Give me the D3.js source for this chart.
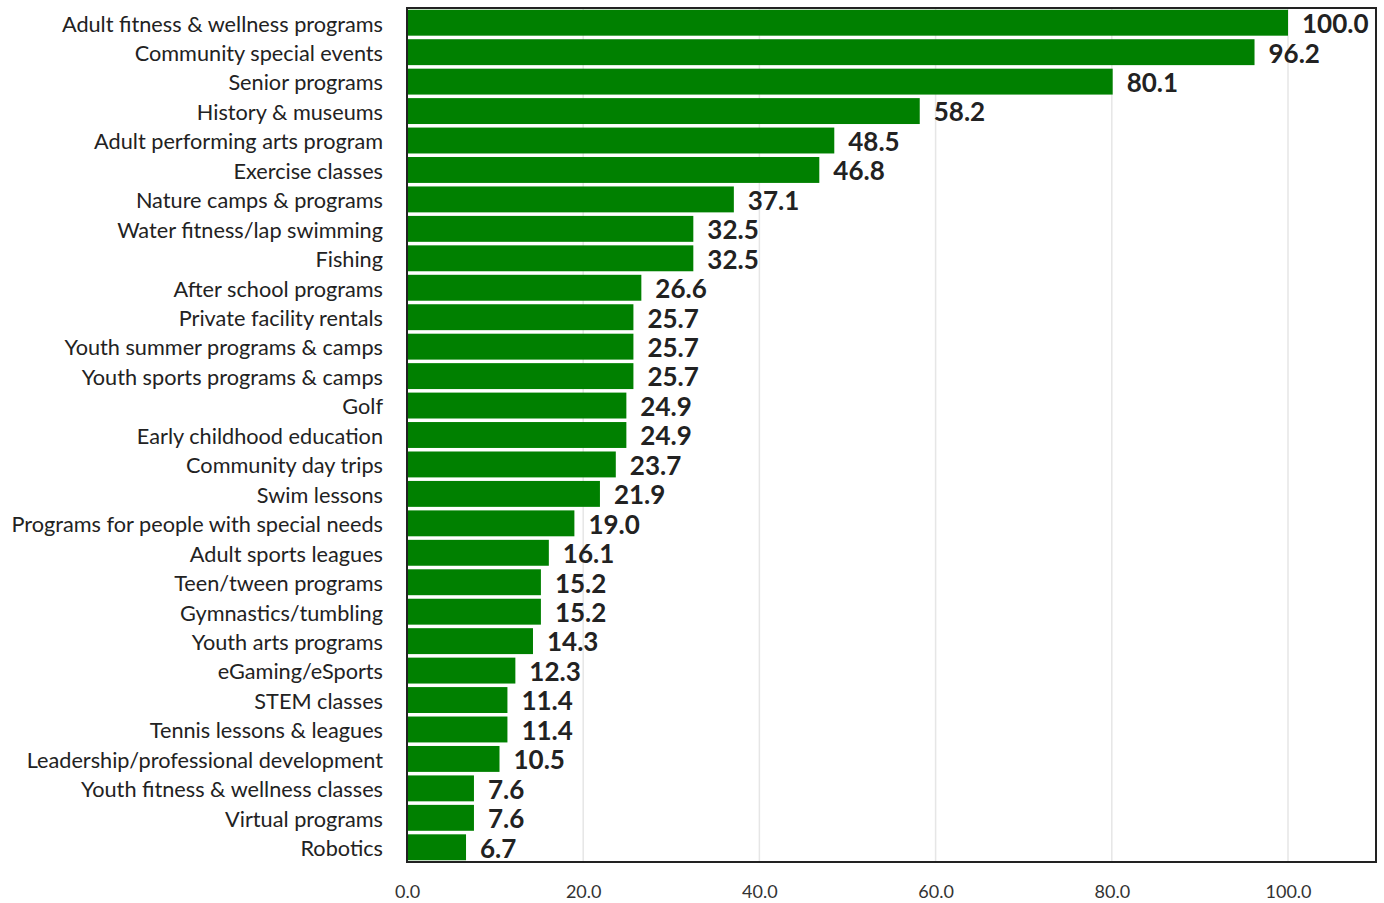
<!DOCTYPE html>
<html><head><meta charset="utf-8">
<script src="https://cdn.jsdelivr.net/npm/d3@7"></script>
<style>body{margin:0;background:#fff}svg{display:block}</style>
</head><body>
<script>
const categories = ["Adult fitness & wellness programs","Community special events","Senior programs","History & museums","Adult performing arts program","Exercise classes","Nature camps & programs","Water fitness/lap swimming","Fishing","After school programs","Private facility rentals","Youth summer programs & camps","Youth sports programs & camps","Golf","Early childhood education","Community day trips","Swim lessons","Programs for people with special needs","Adult sports leagues","Teen/tween programs","Gymnastics/tumbling","Youth arts programs","eGaming/eSports","STEM classes","Tennis lessons & leagues","Leadership/professional development","Youth fitness & wellness classes","Virtual programs","Robotics"];
const values = [100.0,96.2,80.1,58.2,48.5,46.8,37.1,32.5,32.5,26.6,25.7,25.7,25.7,24.9,24.9,23.7,21.9,19.0,16.1,15.2,15.2,14.3,12.3,11.4,11.4,10.5,7.6,7.6,6.7];
const ticks = [0,20,40,60,80,100];

const W=1384,H=903;
const L=407,R=1376,T=8,B=862;
const font="Lato, 'Open Sans', sans-serif";
const svg=d3.select("body").append("svg").attr("width",W).attr("height",H);
const x=d3.scaleLinear().domain([0,110]).range([L,L+881*1.1]);
const y=d3.scaleBand().domain(categories).range([T,B]).paddingInner(0.12).paddingOuter(0.06);

svg.append("g").selectAll("line").data(ticks.slice(1)).join("line")
 .attr("x1",d=>x(d)).attr("x2",d=>x(d)).attr("y1",T).attr("y2",B)
 .attr("stroke","#e6e6e6").attr("stroke-width",1.5);

svg.append("g").selectAll("rect").data(values).join("rect")
 .attr("x",x(0)).attr("y",(d,i)=>y(categories[i]))
 .attr("width",d=>x(d)-x(0)).attr("height",y.bandwidth()).attr("fill","#008000");

svg.append("g").selectAll("text").data(values).join("text")
 .attr("x",d=>x(d)+14).attr("y",(d,i)=>y(categories[i])+y.bandwidth()/2+1)
 .attr("dy","0.36em").attr("font-family",font).attr("font-weight","bold")
 .attr("font-size",26).attr("fill","#222").text(d=>d.toFixed(1));

const yAxis=d3.axisLeft(y).tickSize(0).tickPadding(0);
const gy=svg.append("g").attr("transform",`translate(${L-24},1)`).call(yAxis);
gy.select(".domain").remove();
gy.selectAll("text").attr("font-family",font).attr("font-size",21.7).attr("fill","#222").attr("dy","0.36em");

const xAxis=d3.axisBottom(x).tickValues(ticks).tickSize(0).tickPadding(0).tickFormat(d=>d.toFixed(1));
const gx=svg.append("g").attr("transform",`translate(0,${B+30})`).call(xAxis);
gx.select(".domain").remove();
gx.selectAll("text").attr("font-family",font).attr("font-size",18).attr("fill","#333").attr("dy","0.36em");

svg.append("rect").attr("x",L).attr("y",T).attr("width",R-L).attr("height",B-T)
 .attr("fill","none").attr("stroke","#222").attr("stroke-width",2);
</script>
</body></html>
